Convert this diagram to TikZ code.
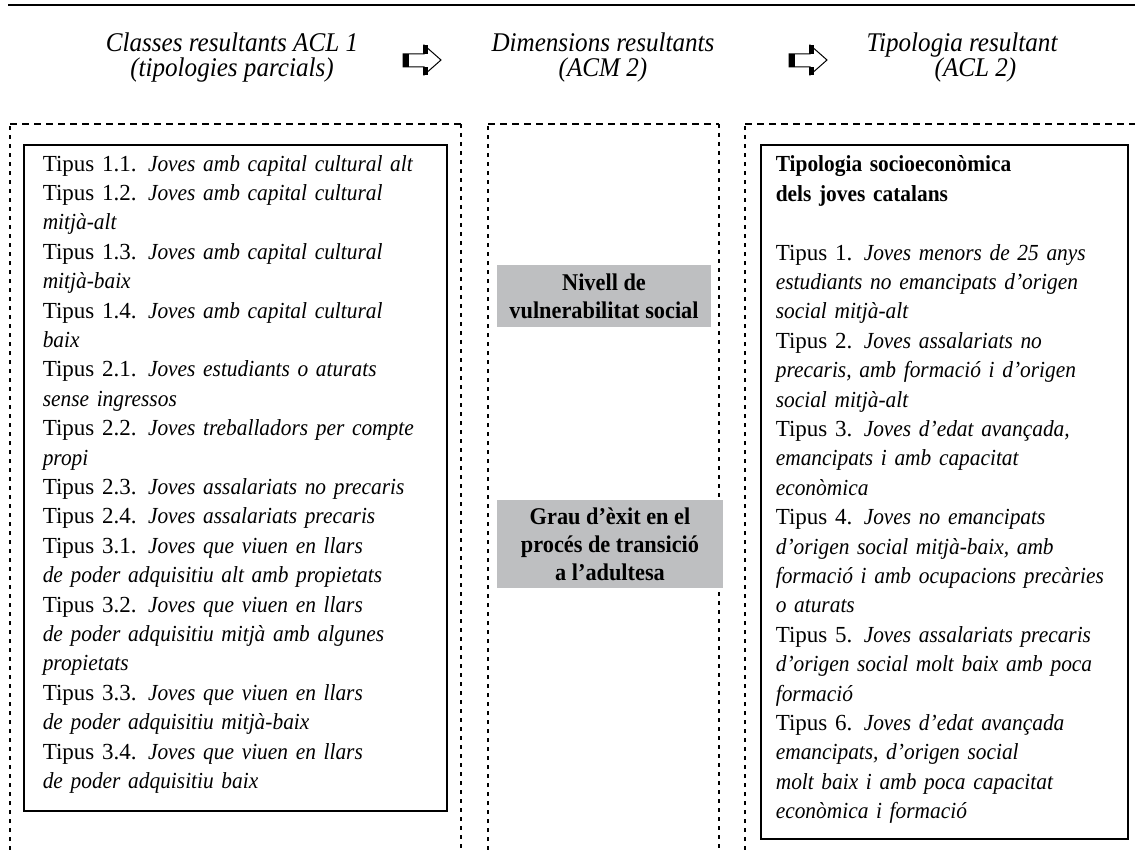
\documentclass[tikz,border=0pt]{standalone}
\usepackage{fontspec}
\setmainfont{Liberation Serif}[ItalicFeatures={FakeStretch=0.93},BoldFeatures={FakeStretch=0.93}]
\usepackage{tikz}

\definecolor{boxgray}{RGB}{190,191,193}

\begin{document}
\begin{tikzpicture}[x=0.5pt,y=-0.5pt,
    head/.style={font=\fontsize{13.5}{12.5}\selectfont\itshape, align=center},
    listbox/.style={draw, line width=0.8pt, anchor=north west, align=left,
        inner ysep=0pt, font=\fontsize{11.5}{14.7}\selectfont},
    dimbox/.style={fill=boxgray, align=center, inner sep=0pt,
        font=\fontsize{12}{14}\selectfont\bfseries},
    hdash/.style={line width=1.2pt, dash pattern=on 3.5pt off 2.5pt},
    vdash/.style={line width=1.4pt, dash pattern=on 2pt off 2.5pt}]
        \useasboundingbox (0,0) rectangle (1135,850);

        % Top rule
        \draw[line width=1pt] (8,5) -- (1135,5);

        % Headers
        \node[head] (classes) at (232,58) {Classes resultants ACL 1\\(tipologies parcials)};
        \node[head] (dims) at (603,58) {Dimensions resultants\\(ACM 2)};
        \node[head] (tipol) at (962,58) {Tipologia resultant\\\hspace*{1em}(ACL 2)};

        % Arrows between headers
        \foreach \x in {403,789} {
            \draw[line width=0.5pt] (\x,54) -- (\x+21,54) -- (\x+21,45) -- (\x+38,60)
                -- (\x+21,75) -- (\x+21,67) -- (\x,67) -- cycle;
            \fill (\x,54) rectangle (\x+6,67);
            \fill (\x+20,45) rectangle (\x+25,54);
            \fill (\x+20,67) rectangle (\x+25,75);
        }

        % Dashed columns
        \foreach \l/\r in {10/461,488/719} {
            \draw[vdash] (\l,850) -- (\l,124);
            \draw[hdash] (\l,124) -- (\r,124);
            \draw[vdash] (\r,124) -- (\r,850);
        }
        \draw[vdash] (745,850) -- (745,124);
        \draw[hdash] (745,124) -- (1135,124);

        % Column 1: partial typologies
        \node[listbox, inner xsep=9.5pt, text width=192.5pt, minimum height=333pt] (classlist) at (23,144) {%
            Tipus 1.1. \textit{Joves amb capital cultural alt}\\
            Tipus 1.2. \textit{Joves amb capital cultural}\\
            \textit{mitjà-alt}\\
            Tipus 1.3. \textit{Joves amb capital cultural}\\
            \textit{mitjà-baix}\\
            Tipus 1.4. \textit{Joves amb capital cultural}\\
            \textit{baix}\\
            Tipus 2.1. \textit{Joves estudiants o aturats}\\
            \textit{sense ingressos}\\
            Tipus 2.2. \textit{Joves treballadors per compte}\\
            \textit{propi}\\
            Tipus 2.3. \textit{Joves assalariats no precaris}\\
            Tipus 2.4. \textit{Joves assalariats precaris}\\
            Tipus 3.1. \textit{Joves que viuen en llars}\\
            \textit{de poder adquisitiu alt amb propietats}\\
            Tipus 3.2. \textit{Joves que viuen en llars}\\
            \textit{de poder adquisitiu mitjà amb algunes}\\
            \textit{propietats}\\
            Tipus 3.3. \textit{Joves que viuen en llars}\\
            \textit{de poder adquisitiu mitjà-baix}\\
            Tipus 3.4. \textit{Joves que viuen en llars}\\
            \textit{de poder adquisitiu baix}\rule[-5.9pt]{0pt}{1pt}};

        % Column 2: dimensions
        \node[dimbox, minimum width=107pt, minimum height=31pt] (vuln) at (604,296) {Nivell de\\vulnerabilitat social};
        \node[dimbox, minimum width=113pt, minimum height=44pt] (exit) at (610,544) {Grau d'èxit en el\\procés de transició\\a l'adultesa};

        % Column 3: final typology
        \node[listbox, inner xsep=7.5pt, text width=168.5pt, minimum height=347pt] (typelist) at (760,144) {%
            \textbf{Tipologia socioeconòmica}\\
            \textbf{dels joves catalans}\\[14.7pt]
            Tipus 1. \textit{Joves menors de 25 anys}\\
            \textit{estudiants no emancipats d'origen}\\
            \textit{social mitjà-alt}\\
            Tipus 2. \textit{Joves assalariats no}\\
            \textit{precaris, amb formació i d'origen}\\
            \textit{social mitjà-alt}\\
            Tipus 3. \textit{Joves d'edat avançada,}\\
            \textit{emancipats i amb capacitat}\\
            \textit{econòmica}\\
            Tipus 4. \textit{Joves no emancipats}\\
            \textit{d'origen social mitjà-baix, amb}\\
            \textit{formació i amb ocupacions precàries}\\
            \textit{o aturats}\\
            Tipus 5. \textit{Joves assalariats precaris}\\
            \textit{d'origen social molt baix amb poca}\\
            \textit{formació}\\
            Tipus 6. \textit{Joves d'edat avançada}\\
            \textit{emancipats, d'origen social}\\
            \textit{molt baix i amb poca capacitat}\\
            \textit{econòmica i formació}\rule[-4.4pt]{0pt}{1pt}};
    \end{tikzpicture}
\end{document}
